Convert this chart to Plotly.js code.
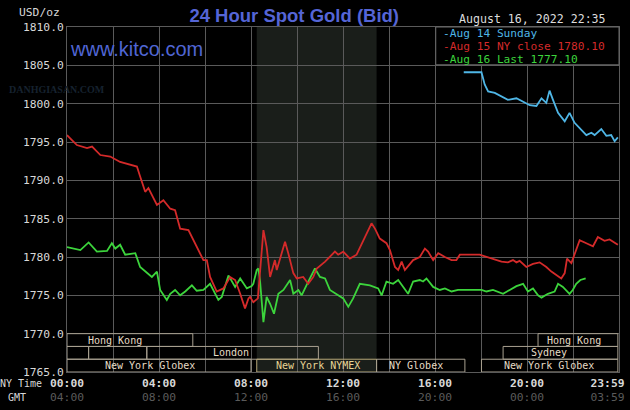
<!DOCTYPE html>
<html>
<head>
<meta charset="utf-8">
<script src="https://cdn.plot.ly/plotly-3.0.1.min.js"></script>
<style>html,body{margin:0;padding:0;background:#000;}#chart{width:630px;height:410px;}</style>
</head>
<body>
<div id="chart"></div>
<script>
// ---- Data (NY time in hours, price in USD/oz) ----
const redHours = [0.00,0.43,0.87,1.09,1.45,1.88,2.31,2.75,3.04,3.18,3.40,3.54,3.91,4.19,4.49,4.70,4.92,5.28,5.57,5.93,6.08,6.22,6.51,6.80,7.09,7.31,7.53,7.74,7.89,7.96,8.10,8.30,8.54,8.68,8.83,9.04,9.12,9.48,9.62,9.84,9.99,10.27,10.49,10.71,10.86,11.22,11.65,11.79,12.01,12.30,12.59,12.95,13.24,13.39,13.60,13.89,14.04,14.26,14.40,14.55,14.69,15.05,15.34,15.56,15.70,15.92,16.14,16.43,16.72,16.93,17.08,17.94,18.24,18.52,18.89,19.17,19.39,19.54,19.68,19.97,20.26,20.55,20.84,21.06,21.28,21.49,21.64,21.74,21.93,22.14,22.29,22.58,22.87,23.08,23.37,23.59,23.81,23.95];
const redPrice = [1795.9,1794.6,1794.2,1794.4,1793.3,1793.1,1792.4,1792.0,1791.8,1790.5,1788.5,1789.0,1786.8,1787.4,1786.3,1786.1,1783.7,1783.5,1781.8,1779.6,1779.6,1777.4,1775.5,1775.9,1777.4,1777.0,1775.2,1773.3,1774.6,1774.8,1774.1,1774.6,1783.5,1781.3,1777.4,1779.6,1778.3,1782.0,1780.5,1777.9,1777.2,1777.4,1776.5,1777.4,1778.5,1779.4,1780.7,1780.3,1780.7,1779.8,1780.3,1782.6,1784.4,1783.7,1782.4,1781.8,1780.9,1778.7,1778.3,1779.4,1778.3,1779.6,1780.0,1781.1,1780.7,1779.6,1780.5,1780.0,1779.6,1779.6,1780.3,1780.3,1780.0,1779.8,1779.4,1779.3,1779.6,1779.3,1779.5,1778.7,1779.1,1779.3,1778.7,1778.1,1777.6,1777.2,1777.9,1779.8,1779.2,1780.9,1782.2,1781.8,1781.4,1782.6,1782.1,1782.3,1781.9,1781.6];

const greenHours = [0.00,0.58,0.94,1.30,1.74,1.95,2.10,2.31,2.53,2.97,3.18,3.47,3.69,3.91,4.05,4.34,4.49,4.70,4.92,5.14,5.43,5.64,5.93,6.22,6.58,6.73,7.02,7.31,7.53,7.82,8.03,8.10,8.25,8.32,8.39,8.54,8.68,8.83,9.00,9.19,9.41,9.70,9.84,10.06,10.20,10.49,10.78,11.00,11.22,11.43,11.79,12.01,12.23,12.44,12.73,13.17,13.53,13.68,13.89,14.18,14.40,14.62,14.83,15.05,15.34,15.48,15.63,15.92,16.21,16.43,16.72,17.00,18.02,18.24,18.52,18.96,19.25,19.54,19.83,20.04,20.26,20.48,20.63,20.91,21.20,21.35,21.56,21.85,21.99,22.14,22.32,22.55];
const greenPrice = [1781.3,1780.9,1781.9,1780.7,1780.8,1781.8,1781.1,1781.6,1780.3,1780.5,1778.7,1777.9,1777.4,1778.1,1775.7,1774.4,1775.2,1775.7,1775.0,1775.5,1776.3,1775.6,1775.7,1776.5,1774.4,1774.8,1777.6,1776.1,1777.2,1775.9,1776.2,1776.5,1778.3,1778.5,1777.0,1771.5,1774.8,1773.9,1772.6,1775.2,1775.7,1777.0,1775.2,1775.7,1775.0,1776.8,1778.5,1777.4,1777.2,1775.7,1775.0,1774.6,1773.5,1774.6,1776.5,1776.3,1775.9,1775.0,1776.8,1776.5,1777.0,1776.1,1775.2,1776.8,1777.0,1776.8,1777.2,1776.1,1775.7,1775.9,1775.5,1775.7,1775.7,1775.5,1775.7,1775.2,1775.7,1776.2,1776.5,1775.5,1775.9,1775.0,1774.7,1775.2,1775.5,1776.5,1776.1,1775.2,1775.7,1776.5,1777.0,1777.2];

const blueHours = [17.25,18.02,18.16,18.31,18.60,18.96,19.17,19.54,19.83,20.12,20.41,20.63,20.84,20.98,21.13,21.35,21.64,21.85,22.07,22.36,22.58,22.80,22.94,23.23,23.45,23.66,23.81,23.95];
const bluePrice = [1804.1,1804.1,1802.5,1801.6,1801.4,1800.9,1800.5,1800.7,1800.3,1799.8,1799.7,1800.7,1800.1,1801.7,1800.5,1798.8,1797.7,1798.8,1797.5,1796.6,1795.9,1796.2,1795.9,1796.7,1795.8,1795.9,1795.1,1795.6];

const seriesNames = ['Aug 14 Sunday','Aug 15 NY close 1780.10','Aug 16 Last 1777.10'];

// x tick labels (the last label sits a little left of the 24h edge, as in the source)
const labelHours   = [0,4,8,12,16,20,23.5];
const nyTimeLabels = ['00:00','04:00','08:00','12:00','16:00','20:00','23:59'];
const gmtLabels    = ['04:00','08:00','12:00','16:00','20:00','00:00','03:59'];
const gridHours    = [0,2,4,6,8,10,12,14,16,18,20,22,24];

// trading sessions
const sessRow   = [0,0,1,1,1,1,2,2,2,2];
const sessStart = [0,20.48,0,0.94,3.47,18.96,0,8.25,13.46,18.02];
const sessEnd   = [5.47,23.95,0.94,3.47,10.93,23.95,8.0,13.46,17.3,23.95];
const sessLabel = ['Hong Kong','Hong Kong','','','London','Sydney','New York Globex','New York NYMEX','NY Globex','New York Globex'];
const sessLabelX= [2.1,22.04,null,null,7.13,20.96,3.62,10.9,15.18,20.96];
const nymexStart = 8.25, nymexEnd = 13.46;

// ---- Styling ----
const BLUE = '#4fb6e6', RED = '#d42a2a', GREEN = '#3cd43c';
const GRID = '#5a5a5a';
const MONO = 'DejaVu Sans Mono, Liberation Mono, monospace';

const traces = [
  {x: greenHours, y: greenPrice, mode:'lines', line:{color:GREEN, width:1.8}, name:seriesNames[2], hoverinfo:'skip'},
  {x: redHours, y: redPrice, mode:'lines', line:{color:RED, width:1.8}, name:seriesNames[1], hoverinfo:'skip'},
  {x: blueHours, y: bluePrice, mode:'lines', line:{color:BLUE, width:1.8}, name:seriesNames[0], hoverinfo:'skip'}
];

const ROW_H = 5/3;
const shapes = [
  {type:'rect', xref:'x', yref:'paper', x0:nymexStart, x1:nymexEnd, y0:0, y1:1, fillcolor:'#1a1e1a', line:{width:0}, layer:'below'}
];
const annotations = [];
for (let i = 0; i < sessRow.length; i++) {
  const top = 1770 - sessRow[i]*ROW_H;
  const isNymex = sessLabel[i] === 'New York NYMEX';
  shapes.push({type:'rect', xref:'x', yref:'y', x0:sessStart[i], x1:sessEnd[i], y0:top-ROW_H, y1:top,
    line:{color: isNymex ? '#b8a878' : '#a8a090', width:1}, fillcolor:'rgba(0,0,0,0)', layer:'above'});
  if (sessLabel[i]) {
    annotations.push({xref:'x', yref:'y', x:sessLabelX[i], y:top-ROW_H/2, text:sessLabel[i], showarrow:false,
      font:{family:MONO, size:10, color: isNymex ? '#e8d494' : '#e6dcc6'}, xanchor:'center', yanchor:'middle'});
  }
}
// legend box
shapes.push({type:'rect', xref:'paper', yref:'paper', x0:0.668, x1:1, y0:0.8905, y1:1, fillcolor:'#000', line:{color:'#6a6a6a', width:1}, layer:'above'});
const legColors = [BLUE, RED, GREEN];
const legY = [0.9819, 0.9441, 0.9064];
for (let i = 0; i < 3; i++) {
  annotations.push({xref:'paper', yref:'paper', x:0.6775, y:legY[i], text:'-' + seriesNames[i], showarrow:false,
    xanchor:'left', yanchor:'middle', font:{family:MONO, size:11.2, color:legColors[i]}});
}
// other texts
annotations.push(
  {xref:'paper', yref:'paper', x:0.002, y:0.937, text:'www.kitco.com', showarrow:false, xanchor:'left', yanchor:'middle',
   font:{family:'Liberation Sans, Arial, sans-serif', size:20, color:'#5066d4'}},
  {xref:'paper', yref:'paper', x:-0.0175, y:0.818, text:'<b>DANHGIASAN.COM</b>', showarrow:false, xanchor:'center', yanchor:'middle',
   font:{family:'Liberation Serif, serif', size:10, color:'#16222f'}},
  {xref:'paper', yref:'paper', x:0.98, y:1.024, text:'August 16, 2022 22:35', showarrow:false, xanchor:'right', yanchor:'middle',
   font:{family:MONO, size:11.6, color:'#dcdcdc'}},
  {xref:'paper', yref:'paper', x:-0.0085, y:1.0415, text:'USD/oz', showarrow:false, xanchor:'right', yanchor:'middle',
   font:{family:MONO, size:11.3, color:'#d8d8d8'}},
  {xref:'paper', yref:'paper', x:-0.0425, y:-0.032, text:'NY Time', showarrow:false, xanchor:'right', yanchor:'middle',
   font:{family:MONO, size:10, color:'#d8d8d8'}},
  {xref:'paper', yref:'paper', x:-0.07, y:-0.073, text:'GMT', showarrow:false, xanchor:'right', yanchor:'middle',
   font:{family:MONO, size:10, color:'#d8d8d8'}}
);

const ticktext = nyTimeLabels.map((t, i) => '<b>' + t + '</b><br><span style="color:#5a5a5a">' + gmtLabels[i] + '</span>');

const layout = {
  width:630, height:410,
  paper_bgcolor:'#000', plot_bgcolor:'#000',
  margin:{l:67, r:11, t:27, b:38, pad:0},
  showlegend:false,
  title:{text:'<b>24 Hour Spot Gold (Bid)</b>', x:0.467, xanchor:'center', y:0.963, yanchor:'middle',
    font:{family:'Liberation Sans, Arial, sans-serif', size:18.5, color:'#5565d6'}},
  xaxis:{range:[0,24], tickvals:labelHours, ticktext:ticktext, showgrid:false,
    minor:{tickvals:gridHours, showgrid:true, gridcolor:GRID, gridwidth:1, ticks:''},
    zeroline:false, showline:true, mirror:true, linecolor:GRID, linewidth:1, ticks:'', ticklabeloverflow:'allow',
    tickfont:{family:MONO, size:11.3, color:'#d8d8d8'}, fixedrange:true},
  yaxis:{range:[1765,1810], dtick:5, tick0:1765, tickformat:'.1f', showgrid:true, gridcolor:GRID, gridwidth:1,
    zeroline:false, showline:true, mirror:true, linecolor:GRID, linewidth:1, ticks:'',
    tickfont:{family:MONO, size:11.3, color:'#d8d8d8'}, fixedrange:true},
  shapes:shapes,
  annotations:annotations
};

Plotly.newPlot('chart', traces, layout, {displayModeBar:false, staticPlot:true});
</script>
</body>
</html>
